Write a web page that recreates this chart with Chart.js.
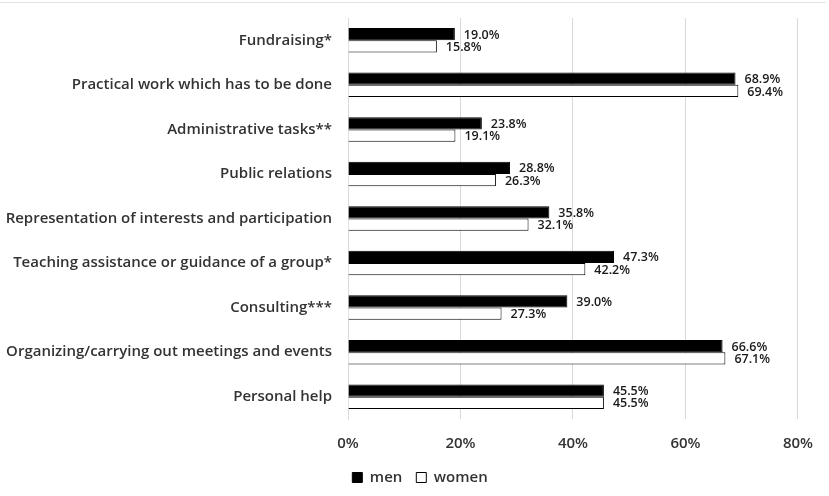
<!DOCTYPE html>
<html>
<head>
<meta charset="utf-8">
<script src="https://cdn.jsdelivr.net/npm/chart.js@4"></script>
<style>
  html, body { margin: 0; padding: 0; background: #fff; }
  #wrap { position: relative; width: 829px; height: 496px; }
  #topline { position: absolute; left: 0; top: 2px; width: 826px; height: 1px; background: #e3e3e3; }
  canvas { position: absolute; left: 0; top: 0; }
</style>
</head>
<body>
<div id="wrap">
  <canvas id="c" width="829" height="496"></canvas>
  <div id="topline"></div>
</div>
<script>
const categories = [
  "Fundraising*",
  "Practical work which has to be done",
  "Administrative tasks**",
  "Public relations",
  "Representation of interests and participation",
  "Teaching assistance or guidance of a group*",
  "Consulting***",
  "Organizing/carrying out meetings and events",
  "Personal help"
];
const menValues = [19.0, 68.9, 23.8, 28.8, 35.8, 47.3, 39.0, 66.6, 45.5];
const womenValues = [15.8, 69.4, 19.1, 26.3, 32.1, 42.2, 27.3, 67.1, 45.5];
const seriesNames = ["men", "women"];
const xTicks = [0, 20, 40, 60, 80];

const FONT = "'Open Sans', 'DejaVu Sans', sans-serif";

const valueLabels = {
  id: 'valueLabels',
  afterDatasetsDraw(chart) {
    const ctx = chart.ctx;
    ctx.save();
    ctx.font = "600 12.5px " + FONT;
    ctx.fillStyle = "#1a1a1a";
    ctx.textAlign = "left";
    ctx.textBaseline = "middle";
    chart.data.datasets.forEach((ds, di) => {
      const meta = chart.getDatasetMeta(di);
      meta.data.forEach((el, i) => {
        const v = ds.data[i];
        ctx.fillText(v.toFixed(1) + "%", el.x + 9, el.y + 1);
      });
    });
    ctx.restore();
  }
};

const legendShift = {
  id: 'legendShift',
  afterLayout(chart) {
    if (chart.legend) { chart.legend.left += 40; }
  }
};

new Chart(document.getElementById('c'), {
  type: 'bar',
  data: {
    labels: categories,
    datasets: [
      {
        label: seriesNames[0],
        data: menValues,
        backgroundColor: '#000000',
        borderColor: '#000000',
        borderWidth: 1,
        categoryPercentage: 0.55,
        barPercentage: 1.0
      },
      {
        label: seriesNames[1],
        data: womenValues,
        backgroundColor: '#ffffff',
        borderColor: '#000000',
        borderWidth: 1,
        categoryPercentage: 0.55,
        barPercentage: 1.0
      }
    ]
  },
  options: {
    indexAxis: 'y',
    responsive: false,
    animation: false,
    devicePixelRatio: 1,
    layout: { padding: { top: 18, right: 29, bottom: 1, left: 0 } },
    plugins: {
      legend: {
        position: 'bottom',
        labels: {
          boxWidth: 10,
          boxHeight: 10,
          padding: 14,
          color: '#333333',
          font: { family: FONT, size: 15, weight: '600' }
        }
      },
      tooltip: { enabled: false }
    },
    scales: {
      x: {
        min: 0,
        max: 80,
        afterBuildTicks(scale) { scale.ticks = xTicks.map(v => ({ value: v })); },
        afterFit(scale) { scale.height = 37; },
        grid: { color: '#d9d9d9', lineWidth: 1, drawTicks: false },
        border: { display: false },
        ticks: {
          padding: 16,
          color: '#333333',
          font: { family: FONT, size: 15, weight: '600' },
          callback: (v) => v + '%'
        }
      },
      y: {
        afterFit(scale) { scale.width = 348; },
        grid: { display: false, drawTicks: true, tickLength: 14 },
        border: { display: true, color: '#d9d9d9', width: 1 },
        ticks: {
          padding: 2,
          color: '#333333',
          font: { family: FONT, size: 15, weight: '600' }
        }
      }
    }
  },
  plugins: [valueLabels, legendShift]
});
</script>
</body>
</html>
